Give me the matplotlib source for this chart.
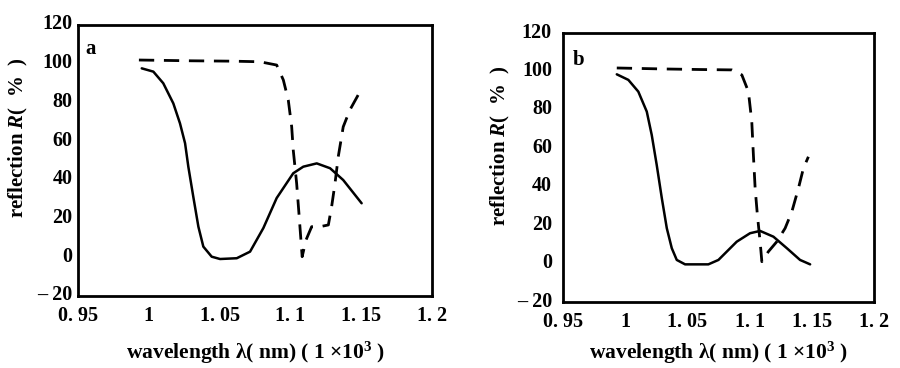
import numpy as np
import matplotlib
matplotlib.use("Agg")
import matplotlib.pyplot as plt
import matplotlib.transforms as mtransforms

plt.rcParams['font.family'] = ['Liberation Serif', 'DejaVu Serif']
plt.rcParams['font.weight'] = 'bold'
plt.rcParams['mathtext.fontset'] = 'custom'
plt.rcParams['mathtext.rm'] = 'Liberation Serif:bold'
plt.rcParams['mathtext.it'] = 'Liberation Serif:bold:italic'
plt.rcParams['mathtext.bf'] = 'Liberation Serif:bold'

# panel a
wl_a_solid = [0.995, 1.0032, 1.0102, 1.0173, 1.022, 1.0256, 1.0279, 1.0314, 1.035, 1.0385,
              1.0444, 1.0503, 1.0621, 1.0715, 1.0809, 1.0903, 1.102, 1.1091, 1.1186,
              1.128, 1.1373, 1.1503]
r_a_solid = [97.6, 95.9, 89.9, 79.5, 69.2, 58.9, 46.8, 31.3, 15.8, 5.5,
             0.3, -0.9, -0.5, 2.9, 15.1, 30.6, 43.4, 46.8, 48.5,
             46.0, 39.9, 27.9]
wl_a_dash = [0.993, 1.03, 1.06, 1.0785, 1.0903, 1.095, 1.0985, 1.1009, 1.102, 1.1044,
             1.1062, 1.1083, 1.111, 1.115, 1.1209, 1.1268, 1.1291, 1.1315, 1.1338,
             1.1373, 1.142, 1.1491]
r_a_dash = [101.9, 101.5, 101.3, 101.0, 99.3, 91.6, 81.2, 67.4, 55.4, 38.2,
            21.0, 0.3, 8.9, 15.8, 15.8, 16.7, 26.1, 38.2, 52.0,
            67.4, 76.1, 85.5]

# panel b
wl_b_solid = [0.9932, 1.0025, 1.0105, 1.0173, 1.0213, 1.0253, 1.0294, 1.0334, 1.0374,
              1.0414, 1.0481, 1.0668, 1.0749, 1.0896, 1.1003, 1.1084, 1.1191, 1.1299,
              1.1405, 1.1486]
r_b_solid = [98.5, 95.6, 89.5, 79.1, 66.9, 51.3, 34.0, 18.4, 8.0,
             1.9, -0.4, -0.4, 1.9, 11.4, 15.8, 17.0, 14.0, 8.0,
             1.9, -0.4]
wl_b_dash = [0.9932, 1.03, 1.06, 1.0856, 1.0937, 1.099, 1.1017, 1.103, 1.1044, 1.1062,
             1.1084, 1.1098, 1.115, 1.1218, 1.1285, 1.1339, 1.1392, 1.1432, 1.1472]
r_b_dash = [101.8, 101.3, 101.0, 100.8, 98.2, 89.5, 73.9, 56.5, 39.2, 25.3,
            11.4, 1.0, 6.2, 11.4, 18.4, 27.0, 39.2, 49.6, 55.6]

xticks = [0.95, 1.0, 1.05, 1.1, 1.15, 1.2]
xticklabels = ['0. 95', '1', '1. 05', '1. 1', '1. 15', '1. 2']
yticks = [-20, 0, 20, 40, 60, 80, 100, 120]
yticklabels = ['\u2013 20', '0', '20', '40', '60', '80', '100', '120']

fig = plt.figure(figsize=(9, 3.68), dpi=100)
ax_a = fig.add_axes([0.0867, 0.1957, 0.3933, 0.7364])
ax_b = fig.add_axes([0.6256, 0.1793, 0.3456, 0.731])

panels = [
    (ax_a, wl_a_solid, r_a_solid, wl_a_dash, r_a_dash, 'a', (0.02, 0.95), (-0.135, 0.583), -0.16, 4),
    (ax_b, wl_b_solid, r_b_solid, wl_b_dash, r_b_dash, 'b', (0.03, 0.937), (-0.165, 0.58), -0.14, 8),
]

shift_up = mtransforms.ScaledTranslation(0, 3 / 100, fig.dpi_scale_trans)

for ax, xs, ys, xd, yd, tag, tagpos, ylpos, xly, ypad in panels:
    ax.plot(xs, ys, color='black', lw=1.8, solid_capstyle='round', solid_joinstyle='round')
    ax.plot(xd, yd, color='black', lw=2.0, dashes=(5.5, 3.5))
    ax.set_xlim(0.95, 1.2)
    ax.set_ylim(-20, 120)
    ax.set_xticks(xticks)
    ax.set_xticklabels(xticklabels)
    ax.set_yticks(yticks)
    ax.set_yticklabels(yticklabels)
    ax.tick_params(length=0, labelsize=14.5)
    ax.tick_params(axis='x', pad=7)
    ax.tick_params(axis='y', pad=ypad)
    for lbl in ax.get_yticklabels():
        lbl.set_transform(lbl.get_transform() + shift_up)
    for s in ax.spines.values():
        s.set_linewidth(2)
    ax.set_ylabel('reflection $R$(  %  )', fontsize=15, fontweight='bold')
    ax.yaxis.set_label_coords(*ylpos)
    ax.set_xlabel('wavelength \u03bb( nm) ( 1 \u00d710$^3$ )', fontsize=15.5, fontweight='bold')
    ax.xaxis.set_label_coords(0.5, xly)
    ax.text(tagpos[0], tagpos[1], tag, transform=ax.transAxes, fontsize=15,
            fontweight='bold', va='top', ha='left')

fig.savefig('out.png', dpi=100)
